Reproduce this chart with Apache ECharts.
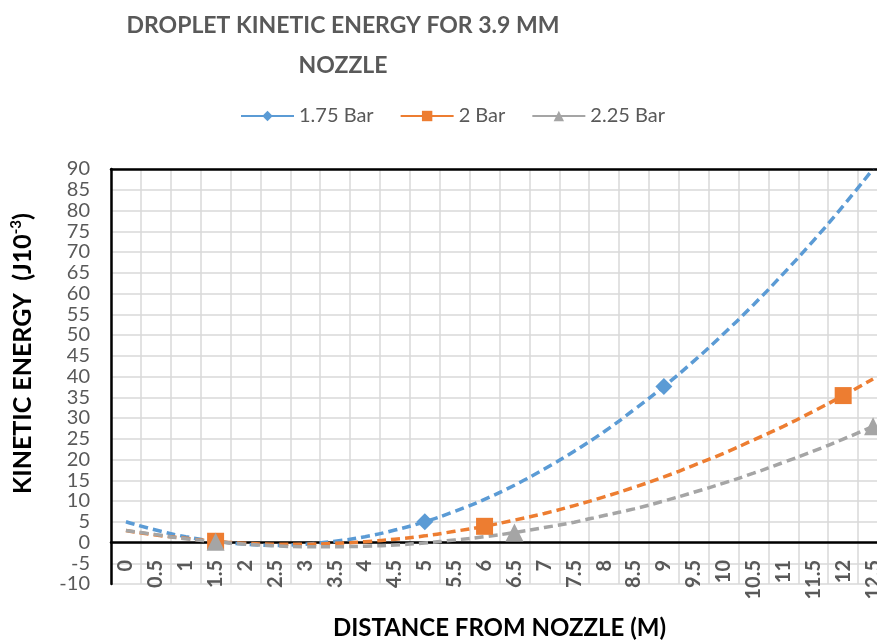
<!DOCTYPE html>
<html>
<head>
<meta charset="utf-8">
<script src="https://cdn.jsdelivr.net/npm/echarts@6/dist/echarts.min.js"></script>
<style>
  html, body { margin: 0; padding: 0; overflow: hidden; background: #fff; }
  #chart { width: 877px; height: 640px; }
</style>
</head>
<body>
<div id="chart"></div>
<script>
// distance categories (m)
const categories = ['0', '0.5', '1', '1.5', '2', '2.5', '3', '3.5', '4', '4.5', '5', '5.5', '6',
  '6.5', '7', '7.5', '8', '8.5', '9', '9.5', '10', '10.5', '11', '11.5', '12', '12.5'];

// measured points
const x175 = ['1.5', '5', '9'];
const y175 = [0.3, 5, 37.6];
const x200 = ['1.5', '6', '12'];
const y200 = [0.3, 3.9, 35.4];
const x225 = ['1.5', '6.5', '12.5'];
const y225 = [0.2, 2.4, 28];

// dashed trend curves at each category
const trend175 = [5.0, 3.0, 1.4, 0.3, -0.4, -0.7, -0.4, 0.3, 1.4, 3.0, 5.0, 7.5, 10.4, 13.8, 17.7,
  22.0, 26.7, 32.0, 37.6, 43.7, 50.3, 57.3, 64.8, 72.7, 81.1, 90.0];
const trend200 = [2.9, 1.8, 1.0, 0.3, -0.2, -0.4, -0.4, -0.2, 0.2, 0.8, 1.6, 2.7, 3.9, 5.4, 7.0,
  8.9, 11.0, 13.3, 15.8, 18.6, 21.5, 24.7, 28.0, 31.6, 35.4, 39.4];
const trend225 = [2.9, 1.9, 0.9, 0.2, -0.4, -0.8, -1.0, -1.0, -0.9, -0.6, -0.1, 0.6, 1.4, 2.4, 3.6,
  4.9, 6.5, 8.1, 10.0, 12.1, 14.3, 16.7, 19.3, 22.0, 24.9, 28.0];

const yTicks = { min: -10, max: 90, step: 5 };

function pointsOn(xs, ys) {
  return categories.map(c => {
    let k = xs.indexOf(c);
    return k < 0 ? null : ys[k];
  });
}

const blue = '#5B9BD5', orange = '#ED7D31', grey = '#A5A5A5';
const txt = '#595959';
const font = 'Lato, "Open Sans", sans-serif';
const frame = { show: true, lineStyle: { color: '#000', width: 2.5 } };

let chart = echarts.init(document.getElementById('chart'));

function trend(name, data, color) {
  return {
    name: name,
    type: 'line',
    data: data,
    smooth: true,
    symbol: 'none',
    silent: true,
    z: 2,
    lineStyle: { color: color, width: 3.5, type: [9, 5] }
  };
}

function marks(name, data, color, symbol, size) {
  return {
    name: name,
    type: 'line',
    data: data,
    symbol: symbol,
    symbolSize: size,
    showAllSymbol: true,
    connectNulls: false,
    z: 5,
    itemStyle: { color: color },
    lineStyle: { color: color, width: 3 }
  };
}

chart.setOption({
  animation: false,
  textStyle: { fontFamily: font },
  title: {
    text: 'DROPLET KINETIC ENERGY FOR 3.9 MM\nNOZZLE',
    left: 338,
    top: 1,
    textAlign: 'center',
    textStyle: {
      color: txt,
      fontSize: 23,
      fontWeight: 'bold',
      fontFamily: font,
      lineHeight: 40
    }
  },
  legend: {
    data: ['1.75 Bar', '2 Bar', '2.25 Bar'],
    left: 235,
    top: 101,
    itemWidth: 53,
    itemHeight: 13,
    itemGap: 26,
    textStyle: { color: txt, fontSize: 20, fontFamily: font }
  },
  grid: {
    left: 111,
    right: -11,
    top: 169,
    bottom: 56,
    outerBoundsMode: 'none',
    containLabel: false
  },
  xAxis: [{
    type: 'category',
    data: categories,
    boundaryGap: true,
    name: 'DISTANCE FROM NOZZLE (M)',
    nameLocation: 'middle',
    nameGap: 32,
    nameTextStyle: { color: '#000', fontSize: 24, fontWeight: 'bold', fontFamily: font },
    axisLine: frame,
    axisTick: { show: false },
    axisLabel: {
      interval: 0,
      rotate: 90,
      margin: -24,
      color: txt,
      fontSize: 20,
      fontWeight: 'bold',
      hideOverlap: false
    },
    splitLine: { show: true, interval: 0, lineStyle: { color: '#d9d9d9', width: 1.5 } }
  }, {
    type: 'category',
    data: categories,
    position: 'top',
    axisLine: frame,
    axisTick: { show: false },
    axisLabel: { show: false },
    splitLine: { show: false }
  }],
  yAxis: {
    type: 'value',
    min: yTicks.min,
    max: yTicks.max,
    interval: yTicks.step,
    name: 'KINETIC ENERGY  (J10{sup|-3})',
    nameLocation: 'middle',
    nameGap: 74,
    nameTextStyle: {
      color: '#000',
      fontSize: 25,
      fontWeight: 'bold',
      fontFamily: font,
      padding: [0, 0, 0, 46],
      rich: { sup: { fontSize: 15, fontWeight: 'bold', verticalAlign: 'top', padding: [0, 0, 13, 0] } }
    },
    axisLine: frame,
    axisTick: { show: false },
    axisLabel: {
      color: txt,
      fontSize: 20,
      margin: 21,
      showMinLabel: true,
      showMaxLabel: true,
      hideOverlap: false
    },
    splitLine: { lineStyle: { color: '#d9d9d9', width: 1.5 } }
  },
  series: [
    trend('trend 1.75', trend175, blue),
    trend('trend 2', trend200, orange),
    trend('trend 2.25', trend225, grey),
    marks('1.75 Bar', pointsOn(x175, y175), blue, 'diamond', 17),
    marks('2 Bar', pointsOn(x200, y200), orange, 'rect', 17),
    marks('2.25 Bar', pointsOn(x225, y225), grey, 'triangle', 18)
  ]
});
</script>
</body>
</html>
